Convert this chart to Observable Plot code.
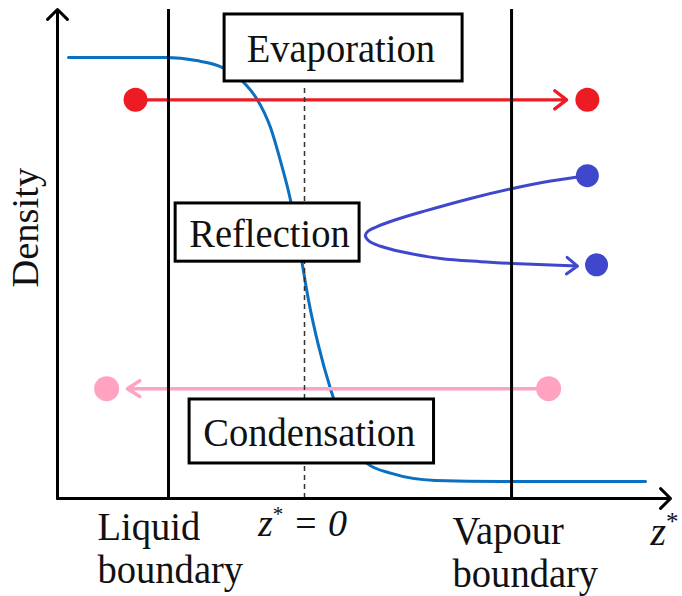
<!DOCTYPE html>
<html>
<head>
<meta charset="utf-8">
<script src="https://cdn.jsdelivr.net/npm/d3@7"></script>
<script src="https://cdn.jsdelivr.net/npm/@observablehq/plot@0.6"></script>
<style>
  html, body { margin: 0; padding: 0; background: #fff; }
  #chart svg { display: block; }
</style>
</head>
<body>
<div id="chart"></div>
<script>
// Axes: reduced position z* (0 at the interface) and density (liquid = 1)
const zRange = [-7.265, 10.765];
const rhoRange = [0, 1.1088];
const liquidBoundary = -4;
const vapourBoundary = 6.09;
const dividingSurface = 0;
const dividingTop = 0.93;

// Density profile across the interface
const profileZ   = [-6.94, -5.41, -4.09, -3.18, -2.41, -1.71, -1.41, -1.0, -0.71, -0.41, -0.12, 0.12, 0.41, 0.77, 1.21, 1.85, 2.56, 3.85, 5.76, 10.03];
const profileRho = [1.0, 1.0, 1.0, 0.993, 0.977, 0.937, 0.907, 0.841, 0.766, 0.676, 0.556, 0.449, 0.347, 0.247, 0.154, 0.079, 0.057, 0.041, 0.0385, 0.0385];

// Evaporation: molecule leaves the liquid and crosses into the vapour
const evapZ = [-4.97, 7.71];
const evapRho = 0.904;
const evapEndZ = 8.32;

// Reflection: molecule turns back before reaching the liquid
const reflZ   = [8.32, 7.24, 6.12, 4.97, 3.50, 2.68, 2.15, 1.85, 1.79, 1.91, 2.24, 2.82, 4.0, 5.18, 6.12];
const reflRho = [0.732, 0.720, 0.703, 0.682, 0.651, 0.632, 0.617, 0.605, 0.596, 0.583, 0.572, 0.560, 0.544, 0.537, 0.533];
const reflTipZ = 8.03;
const reflTipRho = 0.527;
const reflEndZ = 8.59;
const reflEndRho = 0.530;

// Condensation: molecule leaves the vapour and joins the liquid
const condZ = [7.18, -5.21];
const condRho = 0.249;
const condEndZ = -5.82;

// Process labels and their frames
const boxLabels = ["Evaporation", "Reflection", "Condensation"];
const boxLabelZ = [1.07, -1.03, 0.14];
const boxLabelRho = [1.019, 0.5995, 0.1483];
const boxZ1 = [-2.35, -3.79, -3.38];
const boxZ2 = [4.65, 1.62, 3.81];
const boxRho1 = [0.9456, 0.537, 0.0794];
const boxRho2 = [1.0975, 0.669, 0.2245];

const yTitle = "Density";
const xTitle = "z*";
const originLabel = "z* = 0";
const liquidLabel = "Liquid\nboundary";
const vapourLabel = "Vapour\nboundary";

const font = "Liberation Serif, Times New Roman, serif";
const size = 41;
const red = "#ed1c24", blue = "#3f48cc", pink = "#ffa3c1", profileBlue = "#0a70c2", ink = "#111";

const profile = profileZ.map((z, i) => ({z, rho: profileRho[i]}));
const reflection = reflZ.map((z, i) => ({z, rho: reflRho[i]}));
const boxes = boxLabels.map((label, i) => ({
  label, z: boxLabelZ[i], rho: boxLabelRho[i],
  z1: boxZ1[i], z2: boxZ2[i], rho1: boxRho1[i], rho2: boxRho2[i]
}));
const axes = [
  {x1: zRange[0], y1: 0, x2: zRange[0], y2: rhoRange[1]},
  {x1: zRange[0], y1: 0, x2: zRange[1], y2: 0}
];

const svg = Plot.plot({
  width: 682,
  height: 596,
  marginLeft: 57,
  marginRight: 12,
  marginTop: 9,
  marginBottom: 98,
  x: {domain: zRange, axis: null},
  y: {domain: rhoRange, axis: null},
  style: {background: "#fff", overflow: "visible"},
  marks: [
    // density profile
    Plot.line(profile, {x: "z", y: "rho", curve: "monotone-x", stroke: profileBlue, strokeWidth: 3}),

    // evaporation
    Plot.arrow([{}], {x1: evapZ[0], x2: evapZ[1], y1: evapRho, y2: evapRho,
      stroke: red, strokeWidth: 3.3, headLength: 6.8, headAngle: 75}),
    Plot.dot([evapZ[0], evapEndZ], {x: d => d, y: evapRho, r: 12, fill: red}),

    // reflection
    Plot.line(reflection, {x: "z", y: "rho", curve: "catmull-rom", stroke: blue, strokeWidth: 3}),
    Plot.arrow([{}], {x1: reflZ[reflZ.length - 1], y1: reflRho[reflRho.length - 1], x2: reflTipZ, y2: reflTipRho,
      stroke: blue, strokeWidth: 3, headLength: 6.8, headAngle: 75}),
    Plot.dot([{z: reflZ[0], rho: reflRho[0]}, {z: reflEndZ, rho: reflEndRho}], {x: "z", y: "rho", r: 11.5, fill: blue}),

    // condensation
    Plot.arrow([{}], {x1: condZ[0], x2: condZ[1], y1: condRho, y2: condRho,
      stroke: pink, strokeWidth: 3.5, headLength: 6.3, headAngle: 65}),
    Plot.dot([condZ[0], condEndZ], {x: d => d, y: condRho, r: 12.5, fill: pink}),

    // dividing surface and slab boundaries
    Plot.ruleX([dividingSurface], {y1: 0, y2: dividingTop, stroke: "#333", strokeWidth: 1.5, strokeDasharray: "5,4"}),
    Plot.ruleX([liquidBoundary, vapourBoundary], {y1: 0, y2: rhoRange[1], stroke: "#000", strokeWidth: 3}),

    // axes
    Plot.arrow(axes, {x1: "x1", y1: "y1", x2: "x2", y2: "y2", stroke: "#000", strokeWidth: 3, headLength: 7, headAngle: 90}),

    // process labels
    Plot.rect(boxes, {x1: "z1", x2: "z2", y1: "rho1", y2: "rho2", fill: "#fff", stroke: "#000", strokeWidth: 3}),
    Plot.text(boxes, {x: "z", y: "rho", text: "label", fontFamily: font, fontSize: size, fill: ink, className: "narrow"}),

    // axis titles and boundary labels
    Plot.text([yTitle], {x: -8.2, y: 0.614, text: d => d, rotate: -90, fontFamily: font, fontSize: 38.5, fill: ink}),
    Plot.text([liquidLabel], {x: liquidBoundary, y: 0, text: d => d, textAnchor: "start", lineAnchor: "top",
      dx: -71, dy: 11, lineHeight: 1.05, fontFamily: font, fontSize: size, fill: ink, className: "narrow"}),
    Plot.text([vapourLabel], {x: vapourBoundary, y: 0, text: d => d, textAnchor: "start", lineAnchor: "top",
      dx: -59, dy: 15, lineHeight: 1.05, fontFamily: font, fontSize: size, fill: ink, className: "narrow"}),
    Plot.text([originLabel], {x: dividingSurface, y: 0, text: d => d, lineAnchor: "top",
      dx: -2, dy: 11, fontFamily: font, fontSize: 38, fontStyle: "italic", fill: ink}),
    Plot.text([xTitle], {x: zRange[1], y: 0, text: d => d, textAnchor: "start", lineAnchor: "top",
      dx: -20, dy: 18, fontFamily: font, fontSize: 40, fontStyle: "italic", fill: ink})
  ]
});

// Raise the asterisk in z* as a superscript
d3.select(svg).selectAll("text")
  .filter(function () { return this.textContent.includes("*") && this.children.length === 0; })
  .each(function () {
    const [before, after] = this.textContent.split("*");
    const t = d3.select(this).text(null);
    t.append("tspan").text(before);
    t.append("tspan").attr("font-size", after ? 21 : 25).attr("font-style", "normal").attr("dy", -15).text("*");
    if (after) t.append("tspan").attr("dy", 15).text(after);
  });

document.getElementById("chart").append(svg);

// Narrow the serif lettering a little (condensed Times look)
d3.select(svg).selectAll("g.narrow text").each(function () {
  const lines = this.querySelectorAll("tspan");
  for (const el of (lines.length ? Array.from(lines) : [this])) {
    const w = el.getComputedTextLength();
    el.setAttribute("textLength", (w * 0.94).toFixed(1));
    el.setAttribute("lengthAdjust", "spacingAndGlyphs");
  }
});
</script>
</body>
</html>
